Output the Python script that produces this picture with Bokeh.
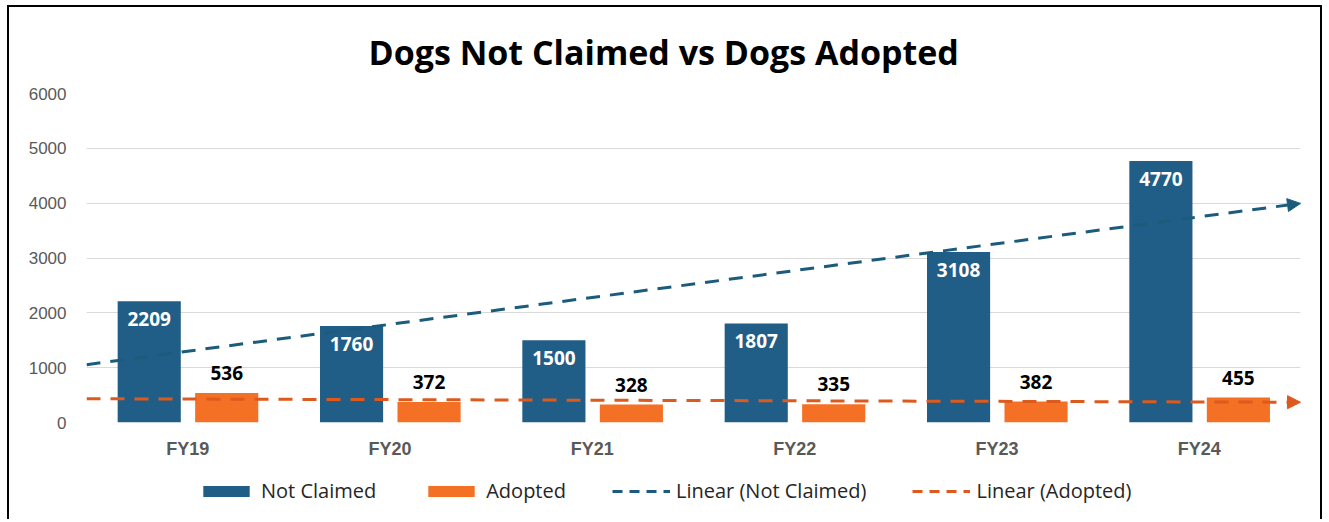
from bokeh.plotting import figure
from bokeh.layouts import column
from bokeh.models import (FactorRange, Range1d, ColumnDataSource, Arrow, NormalHead,
                          Legend, LegendItem, FixedTicker)
from bokeh.transform import dodge
from bokeh.embed import file_html
from bokeh.resources import INLINE
from bokeh.core.properties import value
import numpy as np

years = ["FY19", "FY20", "FY21", "FY22", "FY23", "FY24"]
not_claimed = [2209, 1760, 1500, 1807, 3108, 4770]
adopted = [536, 372, 328, 335, 382, 455]
y_ticks = [0, 1000, 2000, 3000, 4000, 5000, 6000]
series_names = ["Not Claimed", "Adopted", "Linear (Not Claimed)", "Linear (Adopted)"]

NC_COLOR = "#215e87"
AD_COLOR = "#f37025"
NC_TREND = "#1b5c7c"
AD_TREND = "#dc5a1e"

src = ColumnDataSource(dict(
    year=years, nc=not_claimed, ad=adopted,
    nc_lbl=[str(v) for v in not_claimed], ad_lbl=[str(v) for v in adopted]))

p = figure(x_range=FactorRange(*years, range_padding=0), y_range=Range1d(0, 6000),
           width=1315, height=463, output_backend="svg", toolbar_location=None,
           min_border_left=77, min_border_right=24, min_border_top=86, min_border_bottom=48)

p.styles = {"border-top": "2px solid black", "border-left": "2px solid black",
            "border-right": "2px solid black"}

p.title.text = "Dogs Not Claimed  vs  Dogs Adopted"
p.title.align = "left"
p.title.offset = 282
p.title.text_font = "Open Sans"
p.title.text_font_size = "34px"
p.title.text_font_style = "bold"
p.title.text_color = "black"
p.title.standoff = 38

BODY_FONT = "Liberation Sans"

# bars
nc_r = p.vbar(x=dodge("year", -0.19, range=p.x_range), top="nc", width=0.312, source=src,
              fill_color=NC_COLOR, line_color=None)
ad_r = p.vbar(x=dodge("year", 0.193, range=p.x_range), top="ad", width=0.312, source=src,
              fill_color=AD_COLOR, line_color=None)

# data labels
p.text(x=dodge("year", -0.19, range=p.x_range), y="nc", text="nc_lbl", source=src,
       y_offset=11, text_align="center", text_baseline="top", text_color="white",
       text_font=value("Open Sans"), text_font_style="bold", text_font_size="19px")
p.text(x=dodge("year", 0.193, range=p.x_range), y="ad", text="ad_lbl", source=src,
       y_offset=-13, text_align="center", text_baseline="bottom", text_color="black",
       text_font=value("Open Sans"), text_font_style="bold", text_font_size="19px")

# linear trend lines (least squares over index 1..6), drawn over the full category span
t = np.arange(1, len(years) + 1)
def fit(vals):
    b, a = np.polyfit(t, np.array(vals, dtype=float), 1)
    return a, b

for vals, col in ((not_claimed, NC_TREND), (adopted, AD_TREND)):
    a, b = fit(vals)
    p.add_layout(Arrow(x_start=0, y_start=a + b * 0.5, x_end=len(years), y_end=a + b * (len(years) + 0.5),
                       line_color=col, line_width=3, line_dash="14 10",
                       end=NormalHead(size=13, fill_color=col, line_color=col)))

# axes
p.xaxis.axis_line_color = None
p.xaxis.major_tick_line_color = None
p.xaxis.minor_tick_line_color = None
p.xaxis.major_tick_out = 0
p.xaxis.major_label_text_font = BODY_FONT
p.xaxis.major_label_text_font_style = "bold"
p.xaxis.major_label_text_font_size = "18px"
p.xaxis.major_label_text_color = "#595959"
p.xaxis.major_label_standoff = 16

p.yaxis.ticker = FixedTicker(ticks=y_ticks)
p.yaxis.axis_line_color = None
p.yaxis.major_tick_line_color = None
p.yaxis.minor_tick_line_color = None
p.yaxis.major_tick_out = 0
p.yaxis.major_label_text_font = BODY_FONT
p.yaxis.major_label_text_font_size = "17px"
p.yaxis.major_label_text_color = "#595959"
p.yaxis.major_label_standoff = 20

p.xgrid.grid_line_color = None
p.ygrid.grid_line_color = "#d9d9d9"
p.ygrid.grid_line_width = 1
p.outline_line_color = None

# legend strip (separate figure below the chart); its sample glyphs sit outside its visible range
leg = figure(width=1315, height=51, output_backend="svg", toolbar_location=None,
             x_axis_type=None, y_axis_type=None, x_range=Range1d(0, 1), y_range=Range1d(0, 1),
             min_border_left=0, min_border_right=0, min_border_top=0, min_border_bottom=0)
leg.styles = {"border-left": "2px solid black", "border-right": "2px solid black"}
leg.outline_line_color = None
leg.xgrid.visible = False
leg.ygrid.visible = False

hidden = [-50]
l_nc = leg.vbar(x=hidden, top=hidden, bottom=hidden, width=0.1, fill_color=NC_COLOR, line_color=None)
l_ad = leg.vbar(x=hidden, top=hidden, bottom=hidden, width=0.1, fill_color=AD_COLOR, line_color=None)
l_nct = leg.line(x=hidden, y=hidden, line_color=NC_TREND, line_width=3, line_dash="10 7")
l_adt = leg.line(x=hidden, y=hidden, line_color=AD_TREND, line_width=3, line_dash="10 7")

legend = Legend(items=[LegendItem(label=n, renderers=[r]) for n, r in
                       zip(series_names, [l_nc, l_ad, l_nct, l_adt])],
                orientation="horizontal", location=(109, 13))
legend.glyph_width = 58
legend.glyph_height = 14
legend.spacing = 46
legend.label_standoff = 6
legend.label_text_font = "Open Sans"
legend.label_text_font_size = "20px"
legend.label_text_color = "#262626"
legend.border_line_alpha = 0
legend.background_fill_alpha = 0
legend.padding = 2
legend.margin = 0
leg.add_layout(legend)

lay = column(p, leg, spacing=0, styles={"margin-left": "7px", "margin-top": "5px"})

open("out.html", "w").write(file_html(lay, INLINE))
